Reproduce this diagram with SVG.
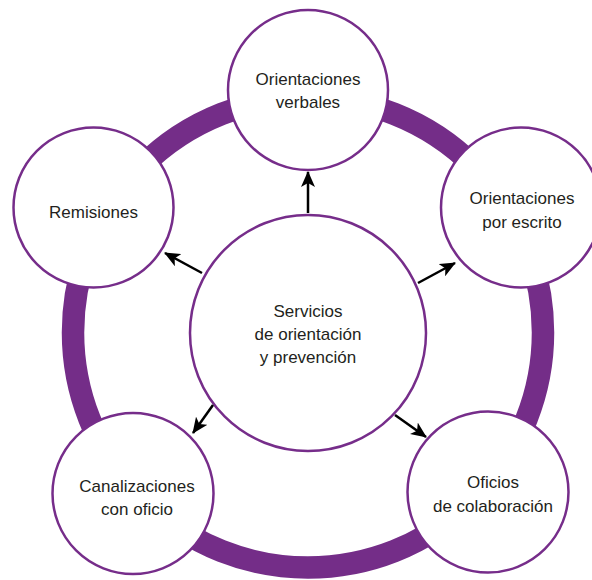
<svg xmlns="http://www.w3.org/2000/svg" width="592" height="580" viewBox="0 0 592 580">
  <style>
    .node { fill: #ffffff; stroke: #762d8a; stroke-width: 2.5; }
    .ring { fill: none; stroke: #742d88; stroke-width: 22.5; }
    .label { font-family: "Liberation Sans", Arial, sans-serif; font-size: 17px; fill: #231f20; text-anchor: middle; }
    .arrow { stroke: #000000; stroke-width: 2.5; fill: none; marker-end: url(#head); }
  </style>
  <defs>
    <marker id="head" viewBox="0 0 16 14" refX="15" refY="7" markerWidth="16" markerHeight="14" markerUnits="userSpaceOnUse" orient="auto">
      <path d="M0,0 L16,7 L0,14 L4,7 Z" fill="#000000"/>
    </marker>
  </defs>
  <rect width="592" height="580" fill="#ffffff"/>
  <circle class="ring" cx="308" cy="332.5" r="235"/>

  <g id="node-verbales">
    <circle class="node" cx="308" cy="90" r="80"/>
    <text class="label" x="308" y="85">Orientaciones</text>
    <text class="label" x="308" y="108">verbales</text>
  </g>
  <g id="node-remisiones">
    <circle class="node" cx="93.5" cy="207.5" r="80"/>
    <text class="label" x="93.5" y="218">Remisiones</text>
  </g>
  <g id="node-escrito">
    <circle class="node" cx="521" cy="207.5" r="80"/>
    <text class="label" x="522" y="204">Orientaciones</text>
    <text class="label" x="522" y="228">por escrito</text>
  </g>
  <g id="node-canalizaciones">
    <circle class="node" cx="133" cy="493.5" r="80.5"/>
    <text class="label" x="137" y="492">Canalizaciones</text>
    <text class="label" x="137" y="515">con oficio</text>
  </g>
  <g id="node-oficios">
    <circle class="node" cx="488" cy="492" r="80.5"/>
    <text class="label" x="493" y="488">Oficios</text>
    <text class="label" x="493" y="512">de colaboración</text>
  </g>
  <g id="node-centro">
    <circle class="node" cx="308" cy="333" r="118"/>
    <text class="label" x="308" y="317">Servicios</text>
    <text class="label" x="308" y="340">de orientación</text>
    <text class="label" x="308" y="363">y prevención</text>
  </g>

  <g id="connectors">
    <line class="arrow" x1="308" y1="213" x2="308" y2="172"/>
    <line class="arrow" x1="202" y1="273" x2="165" y2="253"/>
    <line class="arrow" x1="418" y1="283" x2="455" y2="263"/>
    <line class="arrow" x1="213" y1="405" x2="193" y2="433"/>
    <line class="arrow" x1="395" y1="415" x2="426" y2="437"/>
  </g>
</svg>
